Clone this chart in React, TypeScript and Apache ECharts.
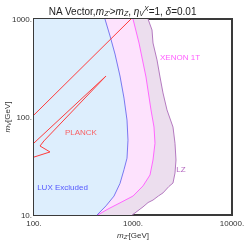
import React, { useEffect, useRef } from "react";
import * as echarts from "echarts";

// Axis ranges / tick labels
const xTicks = [100, 1000, 10000];
const yTicks = [10, 100, 1000];

// Exclusion boundaries [mZ', mV]
const luxBoundary = [[521,1000],[586,671],[658,439],[739,262],[811,156],[870,93],[890,58],[870,38],[811,29],[739,21],[643,15.6],[534,12.4],[433,10]];
const xenonBoundary = [[1000,1000],[1150,569],[1353,256],[1520,118],[1630,79],[1668,54],[1592,36.4],[1485,25.6],[1262,19.8],[1000,15.6],[739,13.3],[559,11.5],[440,10]];
const lzBoundary = [[1418,1000],[1556,772],[1592,569],[1748,382],[1874,256],[2009,176],[2205,118],[2535,79],[2656,54],[2718,36.4],[2656,26.8],[2535,21.2],[2300,19.5],[2009,16.8],[1800,15.6],[1592,14.2],[1420,13.4],[1262,12.1],[1047,10.5],[977,10]];

// PLANCK relic lines
const planckUpper = [[100,105],[955,1000]];
const planckPair = [[100,54.3],[534,262],[126,57],[115,50.6],[145,44],[100,39]];

// Region labels and positions [mZ', mV]
const labelNames = ["XENON 1T", "LZ", "PLANCK", "LUX Excluded"];
const labelPos = [[2985,400],[3055,29.4],[298,68.7],[194,19.3]];
const labelColors = ["#ff33ff", "#a040b0", "#ff3c3c", "#3030ff"];

const XMIN = xTicks[0], XMAX = xTicks[xTicks.length - 1];
const YMIN = yTicks[0], YMAX = yTicks[yTicks.length - 1];

function region(pts: number[][], fill: string) {
  const poly = [...pts, [XMIN, YMIN], [XMIN, YMAX]];
  return {
    type: "custom",
    coordinateSystem: "cartesian2d",
    clip: true,
    silent: true,
    data: [pts[0]],
    renderItem: (_p: any, api: any) => ({
      type: "polygon",
      shape: { points: poly.map((p) => api.coord(p)) },
      style: { fill, stroke: "none", lineWidth: 0 },
    }),
  };
}

function line(pts: number[][], color: string) {
  return {
    type: "line",
    data: pts,
    showSymbol: false,
    symbol: "none",
    clip: true,
    silent: true,
    itemStyle: { color },
    lineStyle: { color, width: 1 },
  };
}

export default function App() {
  const ref = useRef<HTMLDivElement>(null);
  useEffect(() => {
    const chart = echarts.init(ref.current!, null, { renderer: "svg" });
    const fontFamily = "Liberation Sans, Arial, sans-serif";
    chart.setOption({
      animation: false,
      textStyle: { fontFamily },
      title: {
        text: "NA Vector,{i|m}{s|Z'}>{i|m}{s|Z}, {i|η}{s|V}{p|X}=1, {i|δ}=0.01",
        left: "center",
        top: 0,
        textStyle: {
          fontSize: 10,
          fontWeight: "normal",
          color: "#222",
          fontFamily,
          rich: {
            i: { fontSize: 10, fontStyle: "italic", color: "#222", fontFamily },
            s: { fontSize: 7, fontStyle: "italic", color: "#222", padding: [5, 0, 0, 0], fontFamily },
            p: { fontSize: 7, fontStyle: "italic", color: "#222", padding: [0, 0, 5, 0], fontFamily },
          },
        },
      },
      grid: { left: 34, top: 19, right: 13, bottom: 26, outerBoundsMode: "none", containLabel: false, show: true, borderColor: "#3a3a3a", borderWidth: 2, backgroundColor: "transparent" },
      xAxis: {
        type: "log",
        logBase: 10,
        min: XMIN,
        max: XMAX,
        axisLine: { show: false },
        axisTick: { show: false },
        splitLine: { show: false },
        axisLabel: { fontSize: 8, color: "#333", margin: 4, formatter: (v: number) => v + ".", showMinLabel: true, showMaxLabel: true, hideOverlap: false },
        name: "{i|m}{s|Z'}[GeV]",
        nameLocation: "middle",
        nameGap: 15,
        nameMoveOverlap: false,
        nameTextStyle: {
          fontSize: 8, color: "#333",
          rich: {
            i: { fontSize: 8, fontStyle: "italic", color: "#333" },
            s: { fontSize: 6, fontStyle: "italic", color: "#333", padding: [4, 0, 0, 0] },
          },
        },
      },
      yAxis: {
        type: "log",
        logBase: 10,
        min: YMIN,
        max: YMAX,
        axisLine: { show: false },
        axisTick: { show: false },
        splitLine: { show: false },
        axisLabel: { fontSize: 8, color: "#333", margin: 2, formatter: (v: number) => v + ".", showMinLabel: true, showMaxLabel: true, hideOverlap: false },
        name: "{i|m}{s|V}[GeV]",
        nameLocation: "middle",
        nameGap: 22,
        nameMoveOverlap: false,
        nameRotate: 90,
        nameTextStyle: {
          fontSize: 8, color: "#333",
          rich: {
            i: { fontSize: 8, fontStyle: "italic", color: "#333" },
            s: { fontSize: 6, fontStyle: "italic", color: "#333", padding: [4, 0, 0, 0] },
          },
        },
      },
      series: [
        region(lzBoundary, "#ecdeee"),
        region(xenonBoundary, "#fde2fd"),
        region(luxBoundary, "#ddeefd"),
        line(lzBoundary, "#b47ac0"),
        line(xenonBoundary, "#ff66ff"),
        line(luxBoundary, "#7878f0"),
        line(planckUpper, "#ff3c3c"),
        line(planckPair, "#ff3c3c"),
        {
          type: "scatter",
          symbolSize: 0,
          silent: true,
          data: labelNames.map((n, i) => ({
            name: n,
            value: labelPos[i],
            label: { color: labelColors[i] },
          })),
          label: { show: true, position: "inside", formatter: "{b}", fontSize: 8, fontFamily },
        },
      ],
    });
    return () => chart.dispose();
  }, []);
  return <div ref={ref} style={{ position: "fixed", left: 0, top: 0, width: 245, height: 241 }} />;
}
